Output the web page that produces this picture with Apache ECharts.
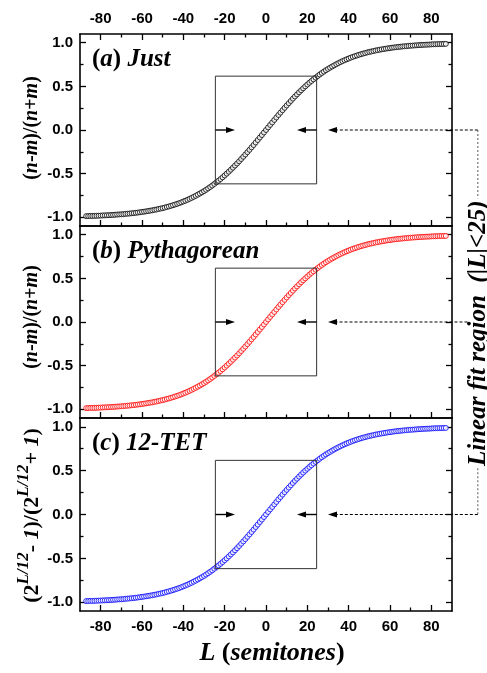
<!DOCTYPE html>
<html>
<head>
<meta charset="utf-8">
<script src="https://cdn.jsdelivr.net/npm/echarts@6/dist/echarts.min.js"></script>
<style>
  html, body { margin: 0; background: #fff; }
  #chart { width: 487px; height: 673px; }
</style>
</head>
<body>
<div id="chart"></div>
<script>
// interval size L in semitones, one marker per semitone
const semitones = [
  -87, -86, -85, -84, -83, -82, -81, -80, -79, -78, -77, -76, -75, -74, -73, -72, -71, -70,
  -69, -68, -67, -66, -65, -64, -63, -62, -61, -60, -59, -58, -57, -56, -55, -54, -53, -52,
  -51, -50, -49, -48, -47, -46, -45, -44, -43, -42, -41, -40, -39, -38, -37, -36, -35, -34,
  -33, -32, -31, -30, -29, -28, -27, -26, -25, -24, -23, -22, -21, -20, -19, -18, -17, -16,
  -15, -14, -13, -12, -11, -10, -9, -8, -7, -6, -5, -4, -3, -2, -1, 0,
  1, 2, 3, 4, 5, 6, 7, 8, 9, 10, 11, 12, 13, 14, 15, 16, 17, 18,
  19, 20, 21, 22, 23, 24, 25, 26, 27, 28, 29, 30, 31, 32, 33, 34, 35, 36,
  37, 38, 39, 40, 41, 42, 43, 44, 45, 46, 47, 48, 49, 50, 51, 52, 53, 54,
  55, 56, 57, 58, 59, 60, 61, 62, 63, 64, 65, 66, 67, 68, 69, 70, 71, 72,
  73, 74, 75, 76, 77, 78, 79, 80, 81, 82, 83, 84, 85, 86, 87
];

// (n-m)/(n+m); the three tunings coincide at this scale
const ratioVals = [
  -0.987, -0.986, -0.985, -0.985, -0.984, -0.983, -0.982, -0.981, -0.979, -0.978,
  -0.977, -0.976, -0.974, -0.973, -0.971, -0.969, -0.967, -0.966, -0.964, -0.961,
  -0.959, -0.957, -0.954, -0.952, -0.949, -0.946, -0.943, -0.939, -0.936, -0.932,
  -0.928, -0.924, -0.920, -0.915, -0.911, -0.905, -0.900, -0.895, -0.889, -0.882,
  -0.876, -0.869, -0.862, -0.854, -0.846, -0.838, -0.829, -0.819, -0.810, -0.800,
  -0.789, -0.778, -0.766, -0.754, -0.741, -0.728, -0.714, -0.700, -0.685, -0.669,
  -0.653, -0.636, -0.618, -0.600, -0.581, -0.562, -0.542, -0.521, -0.500, -0.478,
  -0.455, -0.432, -0.408, -0.384, -0.359, -0.333, -0.307, -0.281, -0.254, -0.227,
  -0.199, -0.172, -0.143, -0.115, -0.086, -0.058, -0.029, 0,
  0.029, 0.058, 0.086, 0.115, 0.143, 0.172, 0.199, 0.227, 0.254, 0.281,
  0.307, 0.333, 0.359, 0.384, 0.408, 0.432, 0.455, 0.478, 0.500, 0.521,
  0.542, 0.562, 0.581, 0.600, 0.618, 0.636, 0.653, 0.669, 0.685, 0.700,
  0.714, 0.728, 0.741, 0.754, 0.766, 0.778, 0.789, 0.800, 0.810, 0.819,
  0.829, 0.838, 0.846, 0.854, 0.862, 0.869, 0.876, 0.882, 0.889, 0.895,
  0.900, 0.905, 0.911, 0.915, 0.920, 0.924, 0.928, 0.932, 0.936, 0.939,
  0.943, 0.946, 0.949, 0.952, 0.954, 0.957, 0.959, 0.961, 0.964, 0.966,
  0.967, 0.969, 0.971, 0.973, 0.974, 0.976, 0.977, 0.978, 0.979, 0.981,
  0.982, 0.983, 0.984, 0.985, 0.985, 0.986, 0.987
];

const panelTags = ['a', 'b', 'c'];
const panelNames = ['Just', 'Pythagorean', '12-TET'];
const xMajorTicks = [-80, -60, -40, -20, 0, 20, 40, 60, 80];
const xMinorTicks = [-70, -50, -30, -10, 10, 30, 50, 70];
const yMajorTicks = [-1, -0.5, 0, 0.5, 1];
const yMinorTicks = [-0.75, -0.25, 0.25, 0.75];

// linear fit box |L| < 25
const fitL = 24.5;
const fitY = 0.617;

const colors = ['#000000', '#ff0000', '#0000ff'];
const gridTops = [34, 226, 418];
const gridHeights = [192, 192, 193];

const serif = '"Liberation Serif", "Times New Roman", serif';
const sans = '"Liberation Sans", Arial, sans-serif';
const tickFont = { fontFamily: sans, fontWeight: 'bold', fontSize: 15, color: '#000' };
const lineCol = { color: '#000', width: 1.6 };
const tickCol = { color: '#000', width: 1.3 };

const chart = echarts.init(document.getElementById('chart'), null, { renderer: 'canvas' });

function xAxes(g, position, ticks, labels) {
  const base = { type: 'value', gridIndex: g, position: position, min: -90, max: 90, splitLine: { show: false } };
  return [
    Object.assign({}, base, {
      axisLine: { show: true, onZero: false, lineStyle: lineCol },
      axisTick: { show: ticks, inside: true, length: 6, customValues: xMajorTicks, lineStyle: tickCol },
      axisLabel: Object.assign({ show: labels, margin: 8, customValues: xMajorTicks }, tickFont)
    }),
    Object.assign({}, base, {
      axisLine: { show: false, onZero: false },
      axisTick: { show: ticks, inside: true, length: 3.5, customValues: xMinorTicks, lineStyle: tickCol },
      axisLabel: { show: false }
    })
  ];
}

function yAxes(g, position, labels) {
  const base = { type: 'value', gridIndex: g, position: position, min: -1.1, max: 1.1, splitLine: { show: false } };
  return [
    Object.assign({}, base, {
      axisLine: { show: true, onZero: false, lineStyle: lineCol },
      axisTick: { show: true, inside: true, length: 6, customValues: yMajorTicks, lineStyle: tickCol },
      axisLabel: Object.assign({
        show: labels, margin: 7, customValues: yMajorTicks,
        formatter: function (v) { return v.toFixed(1); }
      }, tickFont)
    }),
    Object.assign({}, base, {
      axisLine: { show: false, onZero: false },
      axisTick: { show: true, inside: true, length: 3.5, customValues: yMinorTicks, lineStyle: tickCol },
      axisLabel: { show: false }
    })
  ];
}

const grids = [], xAxis = [], yAxis = [], series = [];
for (let g = 0; g < 3; g++) {
  grids.push({ left: 80, top: gridTops[g], width: 372, height: gridHeights[g], outerBoundsMode: 'none' });
  // per grid: bottom major, bottom minor, top major, top minor
  xAxis.push(...xAxes(g, 'bottom', true, g === 2));
  xAxis.push(...xAxes(g, 'top', g === 0, g === 0));
  yAxis.push(...yAxes(g, 'left', true));
  yAxis.push(...yAxes(g, 'right', false));
  series.push({
    type: 'scatter',
    xAxisIndex: g * 4,
    yAxisIndex: g * 4,
    symbol: 'circle',
    symbolSize: 5,
    itemStyle: { color: '#fff', borderColor: colors[g], borderWidth: 1 },
    emphasis: { disabled: true },
    data: semitones.map(function (L, i) { return [L, ratioVals[i]]; })
  });
}

chart.setOption({
  animation: false,
  backgroundColor: '#fff',
  grid: grids,
  xAxis: xAxis,
  yAxis: yAxis,
  series: series
});

// annotations placed through the chart's own scales
const px = function (g, x, y) { return chart.convertToPixel({ seriesIndex: g }, [x, y]); };

function arrow(from, to, dashed) {
  const dir = Math.sign(to[0] - from[0]);
  const headLen = 9, headHalf = 3;
  const bx = to[0] - dir * headLen;
  return [
    { type: 'line', silent: true, z: 10,
      shape: { x1: from[0], y1: from[1], x2: bx, y2: to[1] },
      style: { stroke: '#000', lineWidth: dashed ? 1 : 1.4, lineDash: dashed ? [3, 2] : null } },
    { type: 'polygon', silent: true, z: 10,
      shape: { points: [[to[0], to[1]], [bx, to[1] - headHalf], [bx, to[1] + headHalf]] },
      style: { fill: '#000' } }
  ];
}

const upright = { fontFamily: serif, fontWeight: 'bold', fontStyle: 'normal', color: '#000' };
const italic = { fontFamily: serif, fontWeight: 'bold', fontStyle: 'italic', color: '#000' };
function rich(size, extra) {
  return Object.assign({
    p: Object.assign({ fontSize: size }, upright),
    i: Object.assign({ fontSize: size }, italic)
  }, extra || {});
}
function label(x, y, text, richStyle, rotation) {
  return {
    type: 'text', silent: true, z: 20, x: x, y: y, rotation: rotation || 0,
    style: { x: 0, y: 0, text: text, rich: richStyle,
      align: rotation ? 'center' : 'left', verticalAlign: 'middle',
      textAlign: rotation ? 'center' : 'left', textVerticalAlign: 'middle' }
  };
}

const calloutL = 102.5;
const graphic = [];
const yNames = [
  '{p|(}{i|n}{p|-}{i|m}{p|)/(}{i|n}{p|+}{i|m}{p|)}',
  '{p|(}{i|n}{p|-}{i|m}{p|)/(}{i|n}{p|+}{i|m}{p|)}',
  '{p|(2}{s|L/12}{p|- }{i|1}{p|)/(2}{s|L/12}{p|+ }{i|1}{p|)}'
];
const nameOffset = [-2, -5, 1];

for (let g = 0; g < 3; g++) {
  const tl = px(g, -fitL, fitY), br = px(g, fitL, -fitY);
  graphic.push({ type: 'rect', silent: true, z: 10,
    shape: { x: tl[0], y: tl[1], width: br[0] - tl[0], height: br[1] - tl[1] },
    style: { fill: 'none', stroke: '#333', lineWidth: 1 } });
  graphic.push(...arrow(px(g, -fitL, 0), px(g, -15, 0), false));
  graphic.push(...arrow(px(g, fitL, 0), px(g, 15, 0), false));
  // middle panel's callout stops short of the rotated caption
  graphic.push(...arrow(px(g, g === 1 ? calloutL - 5 : calloutL, 0), px(g, 30, 0), true));

  graphic.push(label(92, gridTops[g] + 26,
    '{p|(}{i|' + panelTags[g] + '}{p|)}{i| ' + panelNames[g] + '}', rich(25)));

  const fs = g === 2 ? 22 : 20;
  const mid = px(g, 0, 0)[1] + nameOffset[g];
  graphic.push(label(32, mid, yNames[g], rich(fs, {
    p: Object.assign({ fontSize: fs, lineHeight: 34 }, upright),
    i: Object.assign({ fontSize: fs, lineHeight: 34 }, italic),
    s: Object.assign({ fontSize: 17, lineHeight: 15, verticalAlign: 'top' }, italic)
  }), Math.PI / 2));
}

// vertical dotted connector with its rotated caption
const cx = px(0, calloutL, 0)[0];
const yTop = px(0, calloutL, 0)[1], yBot = px(2, calloutL, 0)[1];
const capY = (yTop + yBot) / 2 + 11;
const capHalf = 135;
graphic.push({ type: 'line', silent: true, z: 10,
  shape: { x1: cx, y1: yTop, x2: cx, y2: capY - capHalf },
  style: { stroke: '#555', lineWidth: 1, lineDash: [2, 2] } });
graphic.push({ type: 'line', silent: true, z: 10,
  shape: { x1: cx, y1: capY + capHalf, x2: cx, y2: yBot },
  style: { stroke: '#555', lineWidth: 1, lineDash: [2, 2] } });
graphic.push(label(cx + 1, capY, '{i|Linear fit region  (|L|<25)}', rich(25), Math.PI / 2));

// x axis title
const xc = (px(2, -90, 0)[0] + px(2, 90, 0)[0]) / 2 + 6;
graphic.push({
  type: 'text', silent: true, z: 20, x: xc, y: 653,
  style: { x: 0, y: 0, text: '{i|L}{p| (}{i|semitones}{p|)}', rich: rich(26),
    align: 'center', verticalAlign: 'middle', textAlign: 'center', textVerticalAlign: 'middle' }
});

chart.setOption({ graphic: graphic });
</script>
</body>
</html>
